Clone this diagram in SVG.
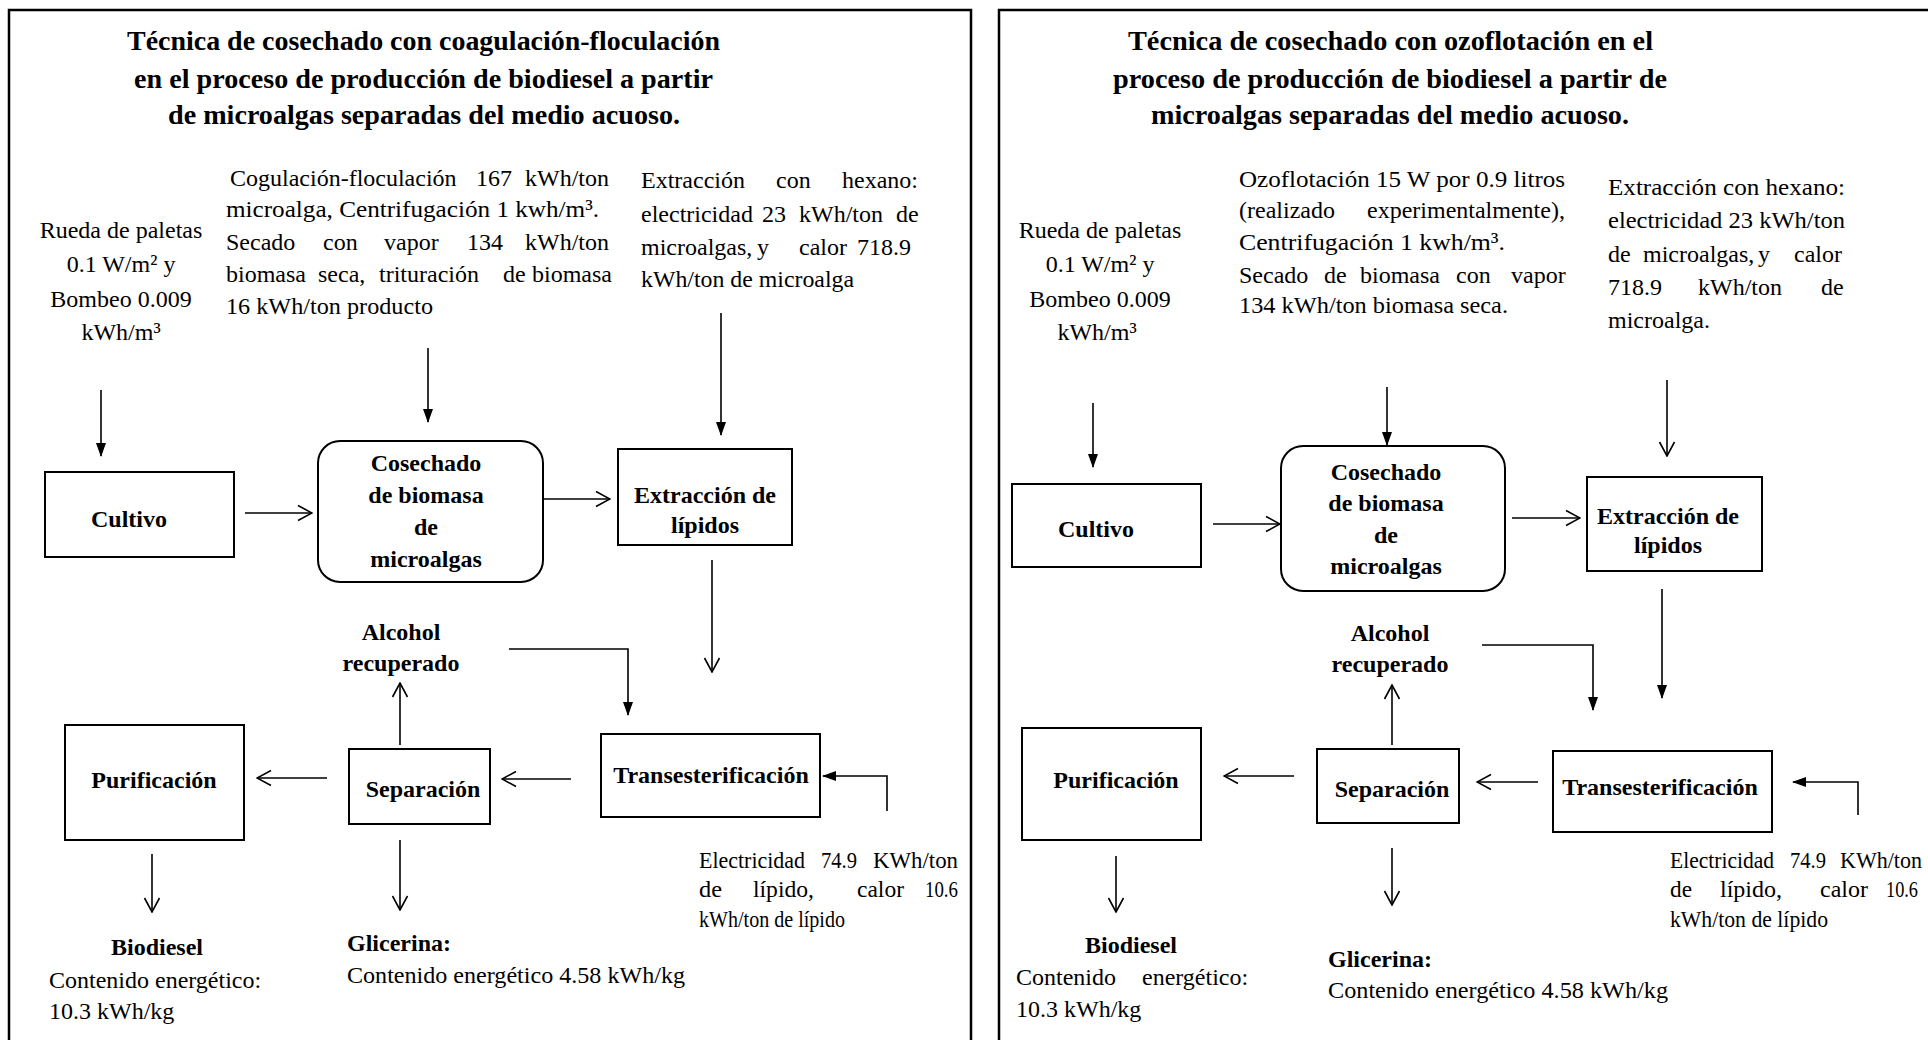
<svg xmlns="http://www.w3.org/2000/svg" width="1928" height="1040" viewBox="0 0 1928 1040">
<defs>
<style>
text{font-family:"Liberation Serif","Times New Roman",serif;fill:#000}
.t{font-size:28px;font-weight:bold}
.b{font-size:24px}
.lb{font-size:24px;font-weight:bold}
.m{text-anchor:middle}
.box{fill:#fff;stroke:#000;stroke-width:2}
.panel{fill:none;stroke:#000;stroke-width:2.5}
.c{fill:none;stroke:#000;stroke-width:1.6}
.cf{marker-end:url(#fa)}
.co{marker-end:url(#oa)}
</style>
<marker id="fa" viewBox="0 0 14 10" refX="13" refY="5" markerWidth="14" markerHeight="10" orient="auto" markerUnits="userSpaceOnUse"><path d="M0,0 L14,5 L0,10 z" fill="#000"/></marker>
<marker id="oa" viewBox="0 0 16 18" refX="15" refY="9" markerWidth="16" markerHeight="18" orient="auto" markerUnits="userSpaceOnUse"><path d="M1,1.5 L15,9 L1,16.5" fill="none" stroke="#000" stroke-width="1.6"/></marker>
</defs>
<rect width="1928" height="1040" fill="#fff"/>

<g id="panels">
<path class="panel" d="M9,1045 V10 H971 V1045"/>
<path class="panel" d="M999,1045 V10 H1935"/>
</g>

<!-- LEFT PANEL -->
<g id="left-title">
<text class="t" x="127" y="50" textLength="593" lengthAdjust="spacingAndGlyphs">Técnica de cosechado con coagulación-floculación</text>
<text class="t" x="134" y="88" textLength="579" lengthAdjust="spacingAndGlyphs">en el proceso de producción de biodiesel a partir</text>
<text class="t" x="168" y="124" textLength="512" lengthAdjust="spacingAndGlyphs">de microalgas separadas del medio acuoso.</text>
</g>

<g id="left-input-cultivo">
<text class="b m" x="121" y="238">Rueda de paletas</text>
<text class="b m" x="121" y="272">0.1 W/m² y</text>
<text class="b m" x="121" y="307">Bombeo 0.009</text>
<text class="b m" x="121" y="340">kWh/m³</text>
</g>

<g id="left-input-cosechado">
<text class="b" y="186"><tspan x="230">Cogulación-floculación </tspan><tspan x="476">167 </tspan><tspan x="525">kWh/ton</tspan></text>
<text class="b" x="226" y="217" textLength="373" lengthAdjust="spacingAndGlyphs">microalga,  Centrifugación 1 kwh/m³.</text>
<text class="b" y="250"><tspan x="226">Secado </tspan><tspan x="323">con </tspan><tspan x="384">vapor </tspan><tspan x="467">134 </tspan><tspan x="525">kWh/ton</tspan></text>
<text class="b" y="282"><tspan x="226">biomasa </tspan><tspan x="318">seca, </tspan><tspan x="379">trituración </tspan><tspan x="503">de </tspan><tspan x="532">biomasa</tspan></text>
<text class="b" x="226" y="314" textLength="207" lengthAdjust="spacingAndGlyphs">16 kWh/ton producto</text>
</g>

<g id="left-input-extraccion">
<text class="b" y="188"><tspan x="641">Extracción </tspan><tspan x="776">con </tspan><tspan x="842">hexano:</tspan></text>
<text class="b" y="222"><tspan x="641">electricidad </tspan><tspan x="762">23 </tspan><tspan x="799">kWh/ton </tspan><tspan x="896">de</tspan></text>
<text class="b" y="255"><tspan x="641">microalgas, </tspan><tspan x="757">y </tspan><tspan x="799">calor </tspan><tspan x="857">718.9</tspan></text>
<text class="b" x="641" y="287" textLength="213" lengthAdjust="spacingAndGlyphs">kWh/ton de microalga</text>
</g>

<g id="left-cultivo">
<rect class="box" x="45" y="472" width="189" height="85"/>
<text class="lb m" x="129" y="527">Cultivo</text>
</g>
<g id="left-cosechado">
<rect class="box" x="318" y="441" width="225" height="141" rx="22"/>
<text class="lb m" x="426" y="471">Cosechado</text>
<text class="lb m" x="426" y="503">de biomasa</text>
<text class="lb m" x="426" y="535">de</text>
<text class="lb m" x="426" y="567">microalgas</text>
</g>
<g id="left-extraccion">
<rect class="box" x="618" y="449" width="174" height="96"/>
<text class="lb m" x="705" y="503">Extracción de</text>
<text class="lb m" x="705" y="533">lípidos</text>
</g>
<g id="left-alcohol">
<text class="lb m" x="401" y="640">Alcohol</text>
<text class="lb m" x="401" y="671">recuperado</text>
</g>
<g id="left-trans">
<rect class="box" x="601" y="734" width="219" height="83"/>
<text class="lb m" x="711" y="783">Transesterificación</text>
</g>
<g id="left-separacion">
<rect class="box" x="349" y="749" width="141" height="75"/>
<text class="lb m" x="423" y="797">Separación</text>
</g>
<g id="left-purificacion">
<rect class="box" x="65" y="725" width="179" height="115"/>
<text class="lb m" x="154" y="788">Purificación</text>
</g>
<g id="left-electricidad">
<text class="b" x="699" y="868" textLength="106" lengthAdjust="spacingAndGlyphs">Electricidad</text>
<text class="b" x="821" y="868" textLength="36" lengthAdjust="spacingAndGlyphs">74.9</text>
<text class="b" x="873" y="868" textLength="85" lengthAdjust="spacingAndGlyphs">KWh/ton</text>
<text class="b" x="699" y="897" textLength="23" lengthAdjust="spacingAndGlyphs">de</text>
<text class="b" x="753" y="897" textLength="61" lengthAdjust="spacingAndGlyphs">lípido,</text>
<text class="b" x="857" y="897" textLength="47" lengthAdjust="spacingAndGlyphs">calor</text>
<text class="b" x="925" y="897" textLength="33" lengthAdjust="spacingAndGlyphs">10.6</text>
<text class="b" x="699" y="927" textLength="146" lengthAdjust="spacingAndGlyphs">kWh/ton de lípido</text>
</g>
<g id="left-biodiesel">
<text class="lb m" x="157" y="955">Biodiesel</text>
<text class="b" x="49" y="988">Contenido energético:</text>
<text class="b" x="49" y="1019">10.3 kWh/kg</text>
</g>
<g id="left-glicerina">
<text class="lb" x="347" y="951">Glicerina:</text>
<text class="b" x="347" y="983" textLength="338" lengthAdjust="spacingAndGlyphs">Contenido energético 4.58 kWh/kg</text>
</g>

<g id="left-connectors">
<path class="c cf" d="M101,390 V456"/>
<path class="c cf" d="M428,348 V422"/>
<path class="c cf" d="M721,313 V435"/>
<path class="c co" d="M245,513 H312"/>
<path class="c co" d="M543,499 H610"/>
<path class="c co" d="M712,560 V672"/>
<path class="c cf" d="M509,649 H628 V715"/>
<path class="c co" d="M400,745 V683"/>
<path class="c cf" d="M887,811 V776 H823"/>
<path class="c co" d="M571,779 H502"/>
<path class="c co" d="M327,778 H257"/>
<path class="c co" d="M152,854 V912"/>
<path class="c co" d="M400,840 V910"/>
</g>

<!-- RIGHT PANEL -->
<g id="right-title">
<text class="t" x="1128" y="50" textLength="525" lengthAdjust="spacingAndGlyphs">Técnica de cosechado con ozoflotación en el</text>
<text class="t" x="1113" y="88" textLength="554" lengthAdjust="spacingAndGlyphs">proceso de producción de biodiesel a partir de</text>
<text class="t" x="1151" y="124" textLength="478" lengthAdjust="spacingAndGlyphs">microalgas separadas del medio acuoso.</text>
</g>

<g id="right-input-cultivo">
<text class="b m" x="1100" y="238">Rueda de paletas</text>
<text class="b m" x="1100" y="272">0.1 W/m² y</text>
<text class="b m" x="1100" y="307">Bombeo 0.009</text>
<text class="b m" x="1097" y="340">kWh/m³</text>
</g>

<g id="right-input-cosechado">
<text class="b" x="1239" y="187" textLength="326" lengthAdjust="spacingAndGlyphs">Ozoflotación 15 W por 0.9 litros</text>
<text class="b" y="218"><tspan x="1239">(realizado </tspan><tspan x="1367">experimentalmente),</tspan></text>
<text class="b" x="1239" y="250" textLength="266" lengthAdjust="spacingAndGlyphs">Centrifugación 1 kwh/m³.</text>
<text class="b" y="283"><tspan x="1239">Secado </tspan><tspan x="1324">de </tspan><tspan x="1360">biomasa </tspan><tspan x="1456">con </tspan><tspan x="1511">vapor</tspan></text>
<text class="b" x="1239" y="313" textLength="269" lengthAdjust="spacingAndGlyphs">134 kWh/ton biomasa seca.</text>
</g>

<g id="right-input-extraccion">
<text class="b" x="1608" y="195" textLength="237" lengthAdjust="spacingAndGlyphs">Extracción con hexano:</text>
<text class="b" x="1608" y="228" textLength="237" lengthAdjust="spacingAndGlyphs">electricidad 23 kWh/ton</text>
<text class="b" y="262"><tspan x="1608">de </tspan><tspan x="1643">microalgas, </tspan><tspan x="1758">y </tspan><tspan x="1794">calor</tspan></text>
<text class="b" y="295"><tspan x="1608">718.9 </tspan><tspan x="1698">kWh/ton </tspan><tspan x="1821">de</tspan></text>
<text class="b" x="1608" y="328">microalga.</text>
</g>

<g id="right-cultivo">
<rect class="box" x="1012" y="484" width="189" height="83"/>
<text class="lb m" x="1096" y="537">Cultivo</text>
</g>
<g id="right-cosechado">
<rect class="box" x="1281" y="446" width="224" height="145" rx="22"/>
<text class="lb m" x="1386" y="480">Cosechado</text>
<text class="lb m" x="1386" y="511">de biomasa</text>
<text class="lb m" x="1386" y="543">de</text>
<text class="lb m" x="1386" y="574">microalgas</text>
</g>
<g id="right-extraccion">
<rect class="box" x="1587" y="477" width="175" height="94"/>
<text class="lb m" x="1668" y="524">Extracción de</text>
<text class="lb m" x="1668" y="553">lípidos</text>
</g>
<g id="right-alcohol">
<text class="lb m" x="1390" y="641">Alcohol</text>
<text class="lb m" x="1390" y="672">recuperado</text>
</g>
<g id="right-trans">
<rect class="box" x="1553" y="751" width="219" height="81"/>
<text class="lb m" x="1660" y="795">Transesterificación</text>
</g>
<g id="right-separacion">
<rect class="box" x="1317" y="749" width="142" height="74"/>
<text class="lb m" x="1392" y="797">Separación</text>
</g>
<g id="right-purificacion">
<rect class="box" x="1022" y="728" width="179" height="112"/>
<text class="lb m" x="1116" y="788">Purificación</text>
</g>
<g id="right-electricidad">
<text class="b" x="1670" y="868" textLength="104" lengthAdjust="spacingAndGlyphs">Electricidad</text>
<text class="b" x="1790" y="868" textLength="36" lengthAdjust="spacingAndGlyphs">74.9</text>
<text class="b" x="1840" y="868" textLength="82" lengthAdjust="spacingAndGlyphs">KWh/ton</text>
<text class="b" x="1670" y="897" textLength="22" lengthAdjust="spacingAndGlyphs">de</text>
<text class="b" x="1720" y="897" textLength="62" lengthAdjust="spacingAndGlyphs">lípido,</text>
<text class="b" x="1820" y="897" textLength="48" lengthAdjust="spacingAndGlyphs">calor</text>
<text class="b" x="1886" y="897" textLength="32" lengthAdjust="spacingAndGlyphs">10.6</text>
<text class="b" x="1670" y="927" textLength="158" lengthAdjust="spacingAndGlyphs">kWh/ton de lípido</text>
</g>
<g id="right-biodiesel">
<text class="lb m" x="1131" y="953">Biodiesel</text>
<text class="b" y="985"><tspan x="1016">Contenido </tspan><tspan x="1142">energético:</tspan></text>
<text class="b" x="1016" y="1017">10.3 kWh/kg</text>
</g>
<g id="right-glicerina">
<text class="lb" x="1328" y="967">Glicerina:</text>
<text class="b" x="1328" y="998" textLength="340" lengthAdjust="spacingAndGlyphs">Contenido energético 4.58 kWh/kg</text>
</g>

<g id="right-connectors">
<path class="c cf" d="M1093,403 V467"/>
<path class="c cf" d="M1387,387 V445"/>
<path class="c co" d="M1667,380 V456"/>
<path class="c co" d="M1213,524 H1280"/>
<path class="c co" d="M1512,518 H1580"/>
<path class="c cf" d="M1662,589 V698"/>
<path class="c cf" d="M1482,645 H1593 V710"/>
<path class="c co" d="M1392,745 V685"/>
<path class="c cf" d="M1858,815 V782 H1793"/>
<path class="c co" d="M1538,782 H1477"/>
<path class="c co" d="M1294,776 H1224"/>
<path class="c co" d="M1116,856 V912"/>
<path class="c co" d="M1392,848 V905"/>
</g>
</svg>
